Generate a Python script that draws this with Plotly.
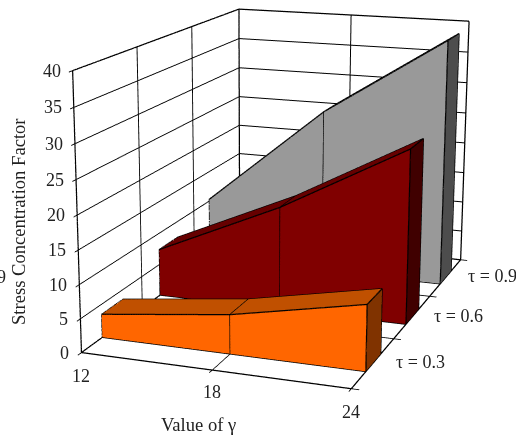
import plotly.graph_objects as go

gamma = [12, 18, 24]
tau_labels = ["τ = 0.3", "τ = 0.6", "τ = 0.9"]
tau_pos = [0.5, 1.5, 2.5]
z_ticks = [0, 5, 10, 15, 20, 25, 30, 35, 40]
tau_03 = [3.5, 5.8, 9.6]
tau_06 = [7.4, 16, 26.5]
tau_09 = [10.3, 26.5, 39]

WIN_W, WIN_H = 516, 436
FIG_W, FIG_H = 1568, 1324   # plotly's lens is wide: the window shows the middle of a larger scene
OFF_X, OFF_Y = (FIG_W-WIN_W)//2, (FIG_H-WIN_H)//2

fig = go.Figure()
series = [(tau_03, tau_pos[0], '#FF6600', '#C05000', '#803300'),
          (tau_06, tau_pos[1], '#800000', '#660000', '#400000'),
          (tau_09, tau_pos[2], '#999999', '#7a7a7a', '#4D4D4D')]
hw = .175
for vals, yc, cf, ct, cr in series:
    y0, y1 = yc-hw, yc+hw
    X = []; Y = []; Z = []
    for g, v in zip(gamma, vals):
        for yy in (y0, y1):
            X += [g, g]; Y += [yy, yy]; Z += [0, v]
    I = []; J = []; K = []; C = []
    def quad(a, b, c, d, col):
        I.extend([a, a]); J.extend([b, c]); K.extend([c, d]); C.extend([col, col])
    for s in (0, 4):
        quad(s, s+4, s+5, s+1, cf)      # front
        quad(s+2, s+6, s+7, s+3, cf)    # back
        quad(s+1, s+5, s+7, s+3, ct)    # top
    quad(8, 9, 11, 10, cr)              # right end
    quad(0, 1, 3, 2, cf)                # left end
    fig.add_trace(go.Mesh3d(x=X, y=Y, z=Z, i=I, j=J, k=K, facecolor=C, flatshading=True, hoverinfo='skip',
                            lighting=dict(ambient=1, diffuse=0, specular=0, fresnel=0, roughness=1)))
    lx = []; ly = []; lz = []
    def seg(*p):
        for q in p:
            lx.append(q[0]); ly.append(q[1]); lz.append(q[2])
        lx.append(None); ly.append(None); lz.append(None)
    g = gamma; v = vals
    seg((g[0], y0, 0), (g[1], y0, 0), (g[2], y0, 0), (g[2], y0, v[2]), (g[1], y0, v[1]), (g[0], y0, v[0]), (g[0], y0, 0))
    seg((g[1], y0, 0), (g[1], y0, v[1]))
    seg((g[0], y0, v[0]), (g[0], y1, v[0]), (g[1], y1, v[1]), (g[2], y1, v[2]), (g[2], y0, v[2]))
    seg((g[1], y0, v[1]), (g[1], y1, v[1]))
    seg((g[2], y0, 0), (g[2], y1, 0), (g[2], y1, v[2]))
    fig.add_trace(go.Scatter3d(x=lx, y=ly, z=lz, mode='lines', line=dict(color='black', width=2.5),
                               hoverinfo='skip', showlegend=False))

x0, x1 = gamma[0], gamma[-1]; zt = z_ticks[-1]
edges = [((x0,0,0),(x1,0,0)), ((x1,0,0),(x1,3,0)), ((x0,0,0),(x0,3,0)), ((x0,0,0),(x0,0,zt)), ((x0,0,zt),(x0,3,zt)),
         ((x0,3,0),(x0,3,zt)), ((x0,3,zt),(x1,3,zt)), ((x1,3,zt),(x1,3,0)), ((x0,3,0),(x1,3,0))]
lx = []; ly = []; lz = []
for a, b in edges:
    lx += [a[0], b[0], None]; ly += [a[1], b[1], None]; lz += [a[2], b[2], None]
fig.add_trace(go.Scatter3d(x=lx, y=ly, z=lz, mode='lines', line=dict(color='black', width=2.5),
                           hoverinfo='skip', showlegend=False))

font = dict(family='Liberation Serif', size=18, color='#222222')
title_font = dict(font, size=18.6)
ann = []
for v in z_ticks:
    ann.append(dict(x=x0, y=0, z=v, text=str(v), showarrow=False, xanchor='right', xshift=-10, font=font))
for g, sh in zip(gamma, (-23, -22, -23)):
    ann.append(dict(x=g, y=0, z=0, text=str(g), showarrow=False, yshift=sh, font=font))
for t, yv, xs in zip(tau_labels, tau_pos, (21, 20, 20)):
    ann.append(dict(x=x1, y=yv, z=0, text=t, showarrow=False, xanchor='left', xshift=xs, yshift=1, font=font))

ax = dict(showbackground=False, showticklabels=False, title='', showspikes=False, zeroline=False, showline=True,
          linecolor='black', linewidth=1,
          gridcolor='black', gridwidth=2, ticks='outside', ticklen=6, tickcolor='black', tickwidth=2)
def px(x): return (OFF_X+x)/FIG_W
def py(y): return 1-(OFF_Y+y)/FIG_H
fig.update_layout(width=FIG_W, height=FIG_H, margin=dict(l=0, r=0, t=0, b=0), paper_bgcolor='white', showlegend=False,
    scene=dict(domain=dict(x=[0, 1], y=[0, 1]), aspectmode='manual', aspectratio=dict(x=.988, y=1.552, z=1),
        camera=dict(eye=dict(x=1.916, y=-5.507, z=1.451), center=dict(x=-.092, y=-.079, z=-.153),
                    up=dict(x=.005, y=.002, z=1), projection=dict(type='perspective')),
        xaxis=dict(ax, range=[x0, x1], tickvals=gamma),
        yaxis=dict(ax, range=[0, 3], tickvals=[0, 1, 2, 3]),
        zaxis=dict(ax, range=[0, zt], tickvals=z_ticks),
        annotations=ann),
    annotations=[
        dict(xref='paper', yref='paper', x=px(198.5), y=py(424), text='Value of γ', showarrow=False, font=title_font),
        dict(xref='paper', yref='paper', x=px(18), y=py(222), text='Stress Concentration Factor', textangle=-90,
             showarrow=False, font=title_font),
        dict(xref='paper', yref='paper', x=px(1), y=py(277), text='9', showarrow=False, font=font)])
post = ("document.documentElement.style.overflow='hidden';document.body.style.overflow='hidden';"
        "var d=document.querySelector('.plotly-graph-div');d.style.position='absolute';"
        f"d.style.left='-{OFF_X}px';d.style.top='-{OFF_Y}px';")
fig.write_html('out.html', post_script=post, config=dict(displayModeBar=False))
